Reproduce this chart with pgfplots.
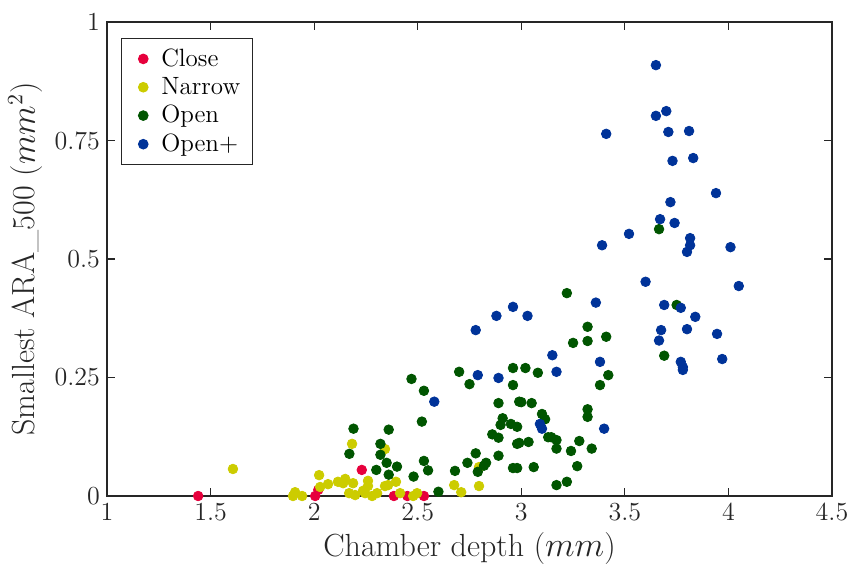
\documentclass[border=0pt]{standalone}
\usepackage{pgfplots}
\pgfplotsset{compat=1.18}
\definecolor{cclose}{RGB}{230,0,60}
\definecolor{cnarrow}{RGB}{204,204,0}
\definecolor{copen}{RGB}{0,85,0}
\definecolor{copenp}{RGB}{0,51,153}
\definecolor{axc}{RGB}{38,38,38}
\pgfplotsset{mydot/.style={only marks, mark=*, mark size=2.4pt,
  legend image code/.code={\path[draw=none,fill=none] (0pt,-2pt) rectangle (14pt,2pt); \draw[##1] plot coordinates {(7pt,0pt)};}}}
\begin{document}
\begin{tikzpicture}
\useasboundingbox (-53.5pt,-39pt) rectangle (372pt,248pt);
\begin{axis}[
  scale only axis,
  width=362.5pt, height=237pt,
  xmin=1, xmax=4.5, ymin=0, ymax=1,
  xtick={1,1.5,2,2.5,3,3.5,4,4.5},
  xticklabels={1,1.5,2,2.5,3,3.5,4,4.5},
  ytick={0,0.25,0.5,0.75,1},
  yticklabels={0,0.25,0.5,0.75,1},
  tick align=inside,
  major tick length=4pt,
  axis line style={axc, line width=0.6pt},
  tick style={axc, line width=0.6pt},
  ticklabel style={font=\fontsize{13}{15}\selectfont, text=axc},
  xlabel={Chamber depth ($mm$)},
  ylabel={Smallest ARA\_500 ($mm^2$)},
  label style={font=\fontsize{16}{19}\selectfont, text=axc},
  xlabel style={yshift=1pt},
  ylabel style={yshift=-1pt},
  clip=false,
  legend style={at={(0.019,0.966)}, anchor=north west, draw=axc, line width=0.5pt,
    font=\fontsize{12.5}{15}\selectfont, row sep=0pt, inner xsep=4pt, inner ysep=3pt},
  legend cell align=left,
]
\addplot[mydot, color=cclose] coordinates {
(1.44,0) (2.005,0) (2.02,0.013) (2.23,0.055) (2.385,0) (2.45,0) (2.53,0)
};
\addlegendentry{Close}
\addplot[mydot, color=cnarrow] coordinates {
(1.608,0.057) (1.908,0.008) (1.898,0) (1.942,0) (2.024,0.044) (2.029,0.019)
(2.067,0.025) (2.115,0.03) (2.14,0.027) (2.15,0.036) (2.183,0.11) (2.188,0.027)
(2.169,0.006) (2.198,0.002) (2.236,0.011) (2.246,0.006) (2.26,0.032) (2.26,0.021)
(2.28,0) (2.304,0.006) (2.342,0.099) (2.342,0.021) (2.357,0.023) (2.395,0.03)
(2.415,0.006) (2.478,0) (2.497,0.006) (2.676,0.023) (2.71,0.008) (2.796,0.021)
(2.796,0.061)
};
\addlegendentry{Narrow}
\addplot[mydot, color=copen] coordinates {
(2.17,0.089) (2.19,0.142) (2.32,0.11) (2.32,0.087) (2.36,0.14) (2.35,0.07)
(2.30,0.055) (2.36,0.045) (2.40,0.062) (2.47,0.247) (2.53,0.222) (2.52,0.157)
(2.53,0.074) (2.55,0.054) (2.48,0.041) (2.60,0.009) (2.68,0.053) (2.70,0.262)
(2.75,0.236) (2.74,0.07) (2.78,0.09) (2.79,0.051) (2.82,0.064) (2.83,0.07)
(2.86,0.13) (2.89,0.123) (2.89,0.196) (2.91,0.164) (2.90,0.15) (2.89,0.085)
(2.96,0.27) (2.96,0.234) (2.95,0.152) (2.98,0.146) (2.99,0.199) (3.00,0.198)
(2.98,0.11) (2.99,0.112) (2.96,0.059) (2.98,0.059) (3.02,0.27) (3.035,0.114)
(3.08,0.26) (3.05,0.196) (3.10,0.173) (3.115,0.162) (3.13,0.124) (3.145,0.124)
(3.17,0.118) (3.06,0.061) (3.17,0.1) (3.24,0.095) (3.17,0.023) (3.22,0.03)
(3.27,0.063) (3.28,0.116) (3.34,0.1) (3.32,0.167) (3.32,0.183) (3.22,0.428)
(3.32,0.357) (3.25,0.323) (3.32,0.327) (3.41,0.336) (3.38,0.234) (3.42,0.255)
(3.69,0.296) (3.75,0.403) (3.665,0.563)
};
\addlegendentry{Open}
\addplot[mydot, color=copenp] coordinates {
(2.58,0.199) (2.78,0.35) (2.79,0.255) (2.88,0.38) (2.89,0.249) (2.96,0.399)
(3.03,0.38) (3.09,0.152) (3.10,0.142) (3.15,0.297) (3.17,0.262) (3.36,0.408)
(3.38,0.283) (3.39,0.529) (3.40,0.142) (3.41,0.764) (3.52,0.553) (3.60,0.452)
(3.65,0.909) (3.65,0.802) (3.665,0.328) (3.67,0.584) (3.675,0.35) (3.69,0.403)
(3.70,0.812) (3.71,0.768) (3.72,0.62) (3.73,0.707) (3.74,0.576) (3.77,0.397)
(3.77,0.283) (3.78,0.272) (3.78,0.266) (3.80,0.515) (3.80,0.352) (3.81,0.77)
(3.815,0.544) (3.815,0.529) (3.83,0.713) (3.84,0.378) (3.94,0.639) (3.945,0.342)
(3.97,0.289) (4.01,0.525) (4.05,0.443)
};
\addlegendentry{Open+}
\end{axis}
\end{tikzpicture}
\end{document}
